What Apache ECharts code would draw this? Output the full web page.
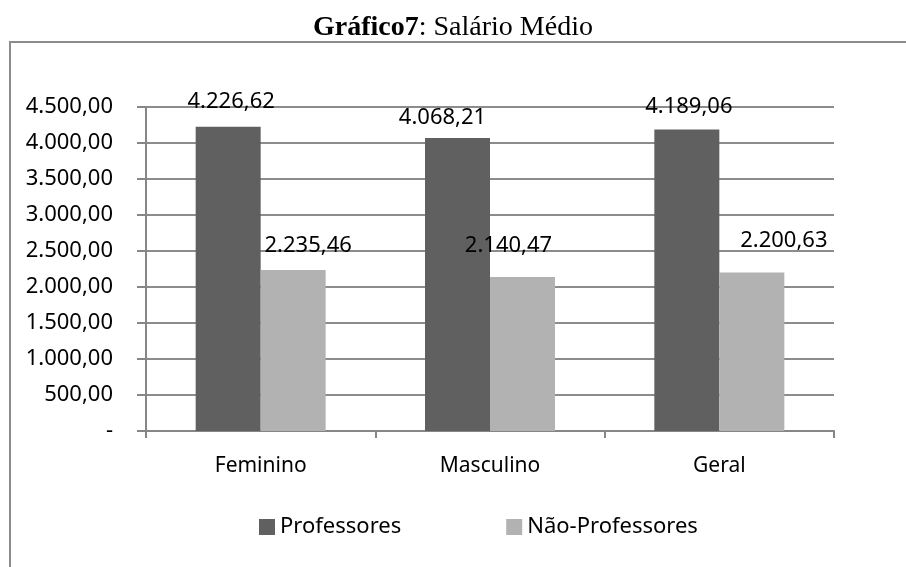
<!DOCTYPE html>
<html>
<head>
    <meta charset="utf-8"/>
    <title>Gráfico7: Salário Médio</title>
    <script src="https://cdn.jsdelivr.net/npm/echarts@6/dist/echarts.min.js"></script>
    <style>
        html,body{margin:0;padding:0;background:#fff;}
        #chart{width:906px;height:567px;}
    </style>
</head>
<body>
<div id="chart"></div>
<script>
var categorias = ['Feminino', 'Masculino', 'Geral'];
var professores = [4226.62, 4068.21, 4189.06];
var naoProfessores = [2235.46, 2140.47, 2200.63];
var nomesSeries = ['Professores', 'Não-Professores'];

// deslocamento dos rótulos (o Excel empurra alguns para não sobrepor)
var offsetProf = [[3, -2], [-15, 3], [2, 0]];
var offsetNao = [[15, -1], [-14, -8], [32, -9]];

var font = 'Noto Sans';

function fmt(v) {
    if (v === 0) return '-';
    var s = v.toFixed(2).split('.');
    return s[0].replace(/\B(?=(\d{3})+(?!\d))/g, '.') + ',' + s[1];
}

function itens(valores, offs) {
    var out = [];
    for (var i = 0; i < valores.length; i++) {
        out.push({value: valores[i], label: {offset: offs[i]}});
    }
    return out;
}

var chart = echarts.init(document.getElementById('chart'));
var option = {
    animation: false,
    title: {
        text: '{b|Gráfico7}: Salário Médio',
        left: 'center',
        top: 9,
        textStyle: {
            fontFamily: 'Liberation Serif',
            fontSize: 28,
            fontWeight: 'normal',
            color: '#000',
            rich: {
                b: {fontFamily: 'Liberation Serif', fontSize: 28, fontWeight: 'bold', color: '#000'}
            }
        }
    },
    graphic: [{
        type: 'rect',
        shape: {x: 10, y: 42, width: 1000, height: 1000},
        style: {fill: 'none', stroke: '#8c8c8c', lineWidth: 2},
        silent: true,
        z: -1
    }],
    legend: {
        data: nomesSeries,
        left: 254,
        top: 511,
        itemWidth: 16,
        itemHeight: 16,
        itemGap: 105,
        icon: 'rect',
        textStyle: {fontFamily: font, fontSize: 22, color: '#000'}
    },
    grid: {left: 146, right: 72, top: 107, bottom: 136},
    xAxis: {
        type: 'category',
        data: categorias,
        axisLine: {lineStyle: {color: '#868686', width: 2}},
        axisTick: {show: true, length: 7, lineStyle: {color: '#868686', width: 2}},
        axisLabel: {fontFamily: font, fontSize: 21, color: '#000', margin: 25}
    },
    yAxis: {
        type: 'value',
        min: 0,
        max: 4500,
        interval: 500,
        axisLine: {show: true, lineStyle: {color: '#868686', width: 2}},
        axisTick: {show: true, length: 9, lineStyle: {color: '#868686', width: 2}},
        splitLine: {lineStyle: {color: '#8c8c8c', width: 2}},
        axisLabel: {
            fontFamily: font, fontSize: 22, color: '#000', margin: 33,
            formatter: fmt
        }
    },
    series: [{
        name: nomesSeries[0],
        type: 'bar',
        data: itens(professores, offsetProf),
        barWidth: 65,
        barGap: '0%',
        itemStyle: {color: '#606060'},
        label: {
            show: true, position: 'top', distance: 12,
            fontFamily: font, fontSize: 22, color: '#000',
            formatter: function (p) { return fmt(p.value); }
        }
    }, {
        name: nomesSeries[1],
        type: 'bar',
        data: itens(naoProfessores, offsetNao),
        barWidth: 65,
        barGap: '0%',
        itemStyle: {color: '#b2b2b2'},
        label: {
            show: true, position: 'top', distance: 12,
            fontFamily: font, fontSize: 22, color: '#000',
            formatter: function (p) { return fmt(p.value); }
        }
    }]
};
chart.setOption(option);
</script>
</body>
</html>
